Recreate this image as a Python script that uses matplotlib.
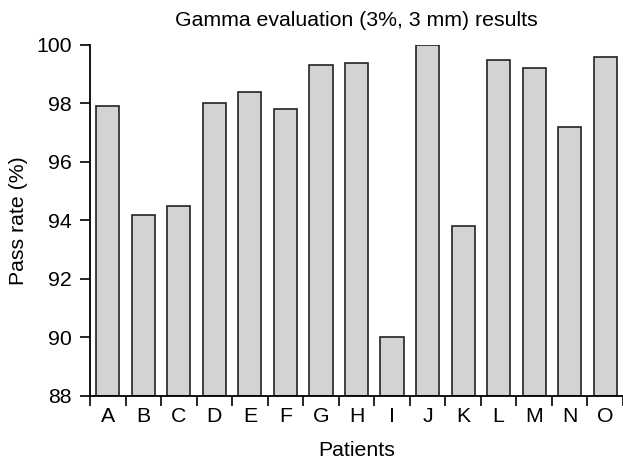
import matplotlib
matplotlib.use("Agg")
import matplotlib.pyplot as plt
import numpy as np

patients = ["A", "B", "C", "D", "E", "F", "G", "H", "I", "J", "K", "L", "M", "N", "O"]
pass_rate = [97.9, 94.2, 94.5, 98.0, 98.4, 97.8, 99.3, 99.4, 90.0, 100.0, 93.8, 99.5, 99.2, 97.2, 99.6]
y_ticks = [88, 90, 92, 94, 96, 98, 100]

plt.rcParams['font.family'] = ['Liberation Sans', 'DejaVu Sans']
FS = 15.3

fig = plt.figure(figsize=(6.23, 4.61), dpi=100)
ax = fig.add_axes([0.1445, 0.141, 0.8555, 0.7614])

x = np.arange(len(patients))
ax.bar(x, [v - 88 for v in pass_rate], bottom=88, width=0.65,
       color="#d3d3d3", edgecolor="#222222", linewidth=1.2, zorder=2)

ax.set_xlim(-0.5, len(patients) - 0.5)
ax.set_ylim(88, 100)
ax.set_yticks(y_ticks)
ax.set_yticklabels([str(t) for t in y_ticks])

ax.set_xticks(np.arange(len(patients) + 1) - 0.5)
ax.set_xticklabels([])
ax.set_xticks(x, minor=True)
ax.set_xticklabels(patients, minor=True)
ax.tick_params(axis='x', which='minor', length=0, pad=8, labelsize=FS)
ax.tick_params(axis='x', which='major', length=7, width=1.2, direction='out')
ax.tick_params(axis='y', length=7, width=1.2, pad=6, labelsize=FS)

for s in ['top', 'right']:
    ax.spines[s].set_visible(False)
for s in ['left', 'bottom']:
    ax.spines[s].set_linewidth(1.3)

ax.set_title("Gamma evaluation (3%, 3 mm) results", fontsize=FS, pad=14)
ax.set_xlabel("Patients", fontsize=FS, labelpad=11)
ax.set_ylabel("Pass rate (%)", fontsize=FS, labelpad=6)

fig.savefig("out.png", dpi=100)
